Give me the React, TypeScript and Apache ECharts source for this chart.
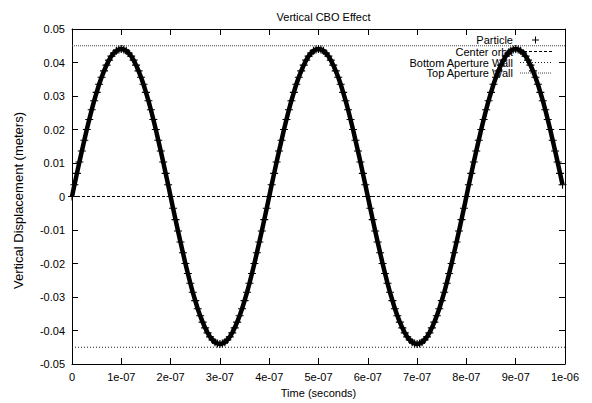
import React, { useEffect, useRef } from "react";
import * as echarts from "echarts";

const TITLE = "Vertical CBO Effect";
const X_NAME = "Time (seconds)";
const Y_NAME = "Vertical Displacement (meters)";

const xTickLabels = ["0", "1e-07", "2e-07", "3e-07", "4e-07", "5e-07", "6e-07", "7e-07", "8e-07", "9e-07", "1e-06"];
const yTickLabels = ["-0.05", "-0.04", "-0.03", "-0.02", "-0.01", "0", "0.01", "0.02", "0.03", "0.04", "0.05"];

const TIME_STEP = 5e-9; // sampling step of the particle track (seconds)

// Particle vertical displacement (meters), one reading per TIME_STEP
const particle: number[] = [
  0, 0.0035, 0.0069, 0.0103, 0.0136, 0.0168, 0.02, 0.023, 0.0259, 0.0286,
  0.0311, 0.0335, 0.0356, 0.0375, 0.0392, 0.0407, 0.0419, 0.0428, 0.0435, 0.0439,
  0.044, 0.0439, 0.0435, 0.0428, 0.0419, 0.0407, 0.0392, 0.0375, 0.0356, 0.0335,
  0.0311, 0.0286, 0.0259, 0.023, 0.02, 0.0168, 0.0136, 0.0103, 0.0069, 0.0035,
  0, -0.0035, -0.0069, -0.0103, -0.0136, -0.0168, -0.02, -0.023, -0.0259, -0.0286,
  -0.0311, -0.0335, -0.0356, -0.0375, -0.0392, -0.0407, -0.0419, -0.0428, -0.0435, -0.0439,
  -0.044, -0.0439, -0.0435, -0.0428, -0.0419, -0.0407, -0.0392, -0.0375, -0.0356, -0.0335,
  -0.0311, -0.0286, -0.0259, -0.023, -0.02, -0.0168, -0.0136, -0.0103, -0.0069, -0.0035,
  0, 0.0035, 0.0069, 0.0103, 0.0136, 0.0168, 0.02, 0.023, 0.0259, 0.0286,
  0.0311, 0.0335, 0.0356, 0.0375, 0.0392, 0.0407, 0.0419, 0.0428, 0.0435, 0.0439,
  0.044, 0.0439, 0.0435, 0.0428, 0.0419, 0.0407, 0.0392, 0.0375, 0.0356, 0.0335,
  0.0311, 0.0286, 0.0259, 0.023, 0.02, 0.0168, 0.0136, 0.0103, 0.0069, 0.0035,
  0, -0.0035, -0.0069, -0.0103, -0.0136, -0.0168, -0.02, -0.023, -0.0259, -0.0286,
  -0.0311, -0.0335, -0.0356, -0.0375, -0.0392, -0.0407, -0.0419, -0.0428, -0.0435, -0.0439,
  -0.044, -0.0439, -0.0435, -0.0428, -0.0419, -0.0407, -0.0392, -0.0375, -0.0356, -0.0335,
  -0.0311, -0.0286, -0.0259, -0.023, -0.02, -0.0168, -0.0136, -0.0103, -0.0069, -0.0035,
  0, 0.0035, 0.0069, 0.0103, 0.0136, 0.0168, 0.02, 0.023, 0.0259, 0.0286,
  0.0311, 0.0335, 0.0356, 0.0375, 0.0392, 0.0407, 0.0419, 0.0428, 0.0435, 0.0439,
  0.044, 0.0439, 0.0435, 0.0428, 0.0419, 0.0407, 0.0392, 0.0375, 0.0356, 0.0335,
  0.0311, 0.0286, 0.0259, 0.023, 0.02, 0.0168, 0.0136, 0.0103, 0.0069, 0.0035,
];

const CENTER_ORBIT = 0;
const BOTTOM_WALL = -0.045;
const TOP_WALL = 0.045;
const X_MIN = 0;
const X_MAX = 1e-6;

const legendNames = ["Particle", "Center orbit", "Bottom Aperture Wall", "Top Aperture Wall"];

const FONT = "'Liberation Sans', Arial, Helvetica, sans-serif";
const CROSS = "path://M4.3,0H5.7V4.3H10V5.7H5.7V10H4.3V5.7H0V4.3H4.3Z";

export default function App() {
  const ref = useRef<HTMLDivElement>(null);
  useEffect(() => {
    if (!ref.current) return;
    const chart = echarts.init(ref.current, null, { renderer: "svg" });
    const particleData = particle.map((v, i) => [i * TIME_STEP, v]);

    const axisCommon = {
      type: "value" as const,
      axisLine: { show: true, onZero: false, lineStyle: { color: "#000", width: 1 } },
      axisTick: { show: true, inside: true, length: 6, lineStyle: { color: "#000", width: 1 } },
      splitLine: { show: false },
    };

    const legendX = 513;
    const legendY = [40, 51.5, 62.5, 73];
    const keyX1 = 520;
    const keyX2 = 552;

    const graphic: any[] = [];
    legendNames.forEach((n, i) => {
      graphic.push({
        type: "text",
        x: legendX,
        y: legendY[i],
        z: 0,
        style: { text: n, align: "right", verticalAlign: "middle", fontSize: 11, fontFamily: FONT, fill: "#000" },
      });
    });
    // Particle key (+)
    graphic.push({ type: "line", z: 0, shape: { x1: 532, y1: legendY[0], x2: 539, y2: legendY[0] }, style: { stroke: "#000", lineWidth: 1 } });
    graphic.push({ type: "line", z: 0, shape: { x1: 535.5, y1: legendY[0] - 3.5, x2: 535.5, y2: legendY[0] + 3.5 }, style: { stroke: "#000", lineWidth: 1 } });
    graphic.push({ type: "line", z: 0, shape: { x1: keyX1 + 4, y1: legendY[1], x2: keyX2, y2: legendY[1] }, style: { stroke: "#000", lineWidth: 1, lineDash: [3, 2] } });
    graphic.push({ type: "line", z: 0, shape: { x1: keyX1, y1: legendY[2], x2: keyX2 - 1, y2: legendY[2] }, style: { stroke: "#222", lineWidth: 1, lineDash: [1, 2] } });
    graphic.push({ type: "line", z: 0, shape: { x1: keyX1, y1: legendY[3], x2: keyX2 - 1, y2: legendY[3] }, style: { stroke: "#444", lineWidth: 1, lineDash: [1, 1] } });

    chart.setOption({
      animation: false,
      backgroundColor: "#fff",
      textStyle: { fontFamily: FONT, color: "#000" },
      title: {
        text: TITLE,
        left: 318.5,
        textAlign: "center",
        top: 6,
        textStyle: { fontSize: 11, fontWeight: "normal", color: "#000", fontFamily: FONT },
      },
      grid: { left: 72, right: 27, top: 29, bottom: 38, containLabel: false },
      xAxis: [
        {
          ...axisCommon,
          position: "bottom",
          min: X_MIN,
          max: X_MAX,
          interval: 1e-7,
          name: X_NAME,
          nameLocation: "middle",
          nameGap: 23,
          nameTextStyle: { fontSize: 11, color: "#000", fontFamily: FONT },
          axisLabel: {
            color: "#000",
            fontSize: 11,
            fontFamily: FONT,
            margin: 7,
            formatter: (v: number) => xTickLabels[Math.round(v / 1e-7)] ?? "",
          },
        },
        {
          ...axisCommon,
          position: "top",
          min: X_MIN,
          max: X_MAX,
          interval: 1e-7,
          axisLabel: { show: false },
        },
      ],
      yAxis: [
        {
          ...axisCommon,
          position: "left",
          min: -0.05,
          max: 0.05,
          interval: 0.01,
          name: Y_NAME,
          nameLocation: "middle",
          nameGap: 47,
          nameTextStyle: { fontSize: 13, color: "#000", fontFamily: FONT, padding: [0, 8, 0, 0] },
          axisLabel: {
            color: "#000",
            fontSize: 11,
            fontFamily: FONT,
            margin: 7,
            formatter: (v: number) => yTickLabels[Math.round(v * 100) + 5] ?? "",
          },
        },
        {
          ...axisCommon,
          position: "right",
          min: -0.05,
          max: 0.05,
          interval: 0.01,
          axisLabel: { show: false },
        },
      ],
      graphic,
      series: [
        {
          name: legendNames[1],
          type: "line",
          data: [[X_MIN, CENTER_ORBIT], [X_MAX, CENTER_ORBIT]],
          symbol: "none",
          lineStyle: { color: "#000", width: 1, type: [3, 2] },
          z: 1,
        },
        {
          name: legendNames[2],
          type: "line",
          data: [[X_MIN, BOTTOM_WALL], [X_MAX, BOTTOM_WALL]],
          symbol: "none",
          lineStyle: { color: "#222", width: 1, type: [1, 2] },
          z: 1,
        },
        {
          name: legendNames[3],
          type: "line",
          data: [[X_MIN, TOP_WALL], [X_MAX, TOP_WALL]],
          symbol: "none",
          lineStyle: { color: "#444", width: 1, type: [1, 1] },
          z: 1,
        },
        {
          name: legendNames[0],
          type: "line",
          data: particleData,
          symbol: CROSS,
          symbolSize: 8,
          showSymbol: true,
          showAllSymbol: true,
          itemStyle: { color: "#000" },
          lineStyle: { color: "#000", width: 4.5 },
          z: 3,
        },
      ],
    });
    return () => chart.dispose();
  }, []);
  return <div ref={ref} style={{ position: "fixed", left: 0, top: 0, width: 592, height: 403, background: "#fff" }} />;
}
